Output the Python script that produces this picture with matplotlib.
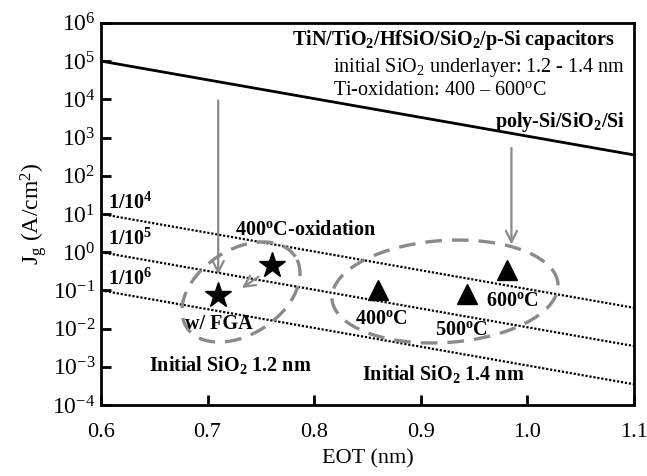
import numpy as np
import matplotlib
matplotlib.use("Agg")
import matplotlib.pyplot as plt

plt.rcParams['font.family'] = ['Liberation Serif', 'DejaVu Serif']
plt.rcParams['mathtext.fontset'] = 'custom'
plt.rcParams['mathtext.rm'] = 'Liberation Serif'
plt.rcParams['mathtext.it'] = 'Liberation Serif:italic'
plt.rcParams['mathtext.bf'] = 'Liberation Serif:bold'

# ----------------------------------------
# Data
# ----------------------------------------
eot_line = [0.6, 1.1]
polysi_jg = [1.0e5, 3.5e2]          # poly-Si/SiO2/Si reference
ratio_start = [1e1, 1e0, 1e-1]      # 1/10^4, 1/10^5, 1/10^6 at EOT=0.6
ratio_end = [3.5e-2, 3.5e-3, 3.5e-4]
ratio_labels = ["$\\mathbf{1/10^4}$", "$\\mathbf{1/10^5}$", "$\\mathbf{1/10^6}$"]

star_eot = [0.71, 0.76]             # initial SiO2 1.2 nm
star_jg = [0.074, 0.46]

tri_eot = [0.86, 0.943, 0.981]      # initial SiO2 1.4 nm, 400/500/600 C
tri_jg = [0.10, 0.083, 0.34]

xticks = [0.6, 0.7, 0.8, 0.9, 1.0, 1.1]
xtick_labels = ["0.6", "0.7", "0.8", "0.9", "1.0", "1.1"]

GRAY = "#8a8a8a"
FS_TXT = 14.5

fig = plt.figure(figsize=(6.47, 4.76), dpi=100)
ax = fig.add_axes([0.156, 0.149, 0.824, 0.803])

ax.plot(eot_line, polysi_jg, color="black", lw=2.0)
for y0, y1 in zip(ratio_start, ratio_end):
    ax.plot(eot_line, [y0, y1], color="black", lw=1.6, ls=(0, (1, 0.8)))

ax.plot(star_eot, star_jg, ls="none", marker="*", ms=19, color="black", zorder=5)
ax.plot(tri_eot, tri_jg, ls="none", marker="^", ms=15, color="black", zorder=5)

# gray arrows
arrow_kw = dict(arrowstyle="->,head_length=0.8,head_width=0.4", color=GRAY, lw=1.6)
ax.annotate("", xy=(0.71, 0.22), xytext=(0.71, 1.1e4), arrowprops=arrow_kw)
ax.annotate("", xy=(0.985, 1.35), xytext=(0.985, 630), arrowprops=arrow_kw)
ax.annotate("", xy=(0.73, 0.105), xytext=(0.75, 0.25), arrowprops=arrow_kw)

# dashed ellipses (drawn in axes pixel space)
W, H = 533.0, 382.0
def ellipse(cx, cy, a, b, theta):
    t = np.linspace(0, 2 * np.pi, 200)
    th = np.radians(theta)
    px = cx + a * np.cos(t) * np.cos(th) - b * np.sin(t) * np.sin(th)
    py = cy + a * np.cos(t) * np.sin(th) + b * np.sin(t) * np.cos(th)
    ax.plot(px / W, py / H, transform=ax.transAxes, color=GRAY, lw=2.4,
            ls=(0, (5, 3)), clip_on=False)

ellipse(241 - 101, 405 - 292, 64.8, 42.3, 33)
ellipse(445 - 101, 405 - 291.5, 113.2, 51.0, 3.8)

ax.set_xlim(0.6, 1.1)
ax.set_yscale("log")
ax.set_ylim(1e-4, 1e6)
ax.set_yticks([10.0 ** k for k in range(-4, 7)])
ax.minorticks_off()
ax.set_xticks(xticks)
ax.set_xticklabels(xtick_labels)
ax.tick_params(direction="in", length=7, width=2, labelsize=17, pad=4)
ax.tick_params(axis="x", labelsize=16, pad=13)
for s in ax.spines.values():
    s.set_linewidth(2)

ax.set_xlabel("EOT (nm)", fontsize=16, labelpad=5)
ax.set_ylabel("J$_\\mathrm{g}$ (A/cm$^2$)", fontsize=17, labelpad=2)

# texts
T = ax.transAxes
ax.text(0.964, 0.942, "TiN/TiO$_\\mathbf{2}$/HfSiO/SiO$_\\mathbf{2}$/p-Si capacitors",
        transform=T, ha="right", va="baseline", fontsize=FS_TXT, fontweight="bold")
ax.text(0.983, 0.872, "initial SiO$_2$ underlayer: 1.2 - 1.4 nm",
        transform=T, ha="right", va="baseline", fontsize=FS_TXT)
ax.text(0.435, 0.812, "Ti-oxidation: 400 \u2013 600$^\\mathrm{o}$C",
        transform=T, ha="left", va="baseline", fontsize=FS_TXT)
ax.text(0.983, 0.728, "poly-Si/SiO$_\\mathbf{2}$/Si",
        transform=T, ha="right", va="baseline", fontsize=FS_TXT, fontweight="bold")
for lab, fy in zip(ratio_labels, [0.513, 0.419, 0.314]):
    ax.text(0.014, fy, lab, transform=T, ha="left", va="baseline", fontsize=FS_TXT)
ax.text(0.251, 0.445, "400$^\\mathbf{o}$C-oxidation", transform=T,
        ha="left", va="baseline", fontsize=FS_TXT, fontweight="bold")
ax.text(0.221, 0.199, "w/ FGA", transform=T, ha="center", va="baseline",
        fontsize=FS_TXT, fontweight="bold")
ax.text(0.242, 0.089, "Initial SiO$_\\mathbf{2}$ 1.2 nm", transform=T,
        ha="center", va="baseline", fontsize=FS_TXT, fontweight="bold")
ax.text(0.642, 0.065, "Initial SiO$_\\mathbf{2}$ 1.4 nm", transform=T,
        ha="center", va="baseline", fontsize=FS_TXT, fontweight="bold")
for lab, fx, fy in [("400", 0.527, 0.212), ("500", 0.677, 0.183), ("600", 0.771, 0.259)]:
    ax.text(fx, fy, lab + "$^\\mathbf{o}$C", transform=T, ha="center",
            va="baseline", fontsize=FS_TXT, fontweight="bold")

fig.savefig("out.png", dpi=100)
